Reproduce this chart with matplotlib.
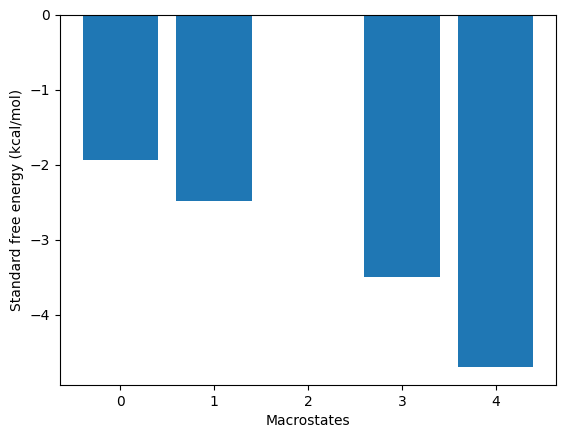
import numpy as np
import matplotlib
matplotlib.use("Agg")
from matplotlib import pyplot as plt

macrostates = [0, 1, 2, 3, 4]
free_energy = [-1.93, -2.48, 0.0, -3.49, -4.70]

fig = plt.figure(figsize=(5.65, 4.38), dpi=100)
ax = fig.add_axes([60 / 565, 1 - 385 / 438, 496 / 565, 370 / 438])
ax.bar(macrostates, free_energy)
ax.set_xlabel('Macrostates')
ax.set_ylabel('Standard free energy (kcal/mol)')
fig.savefig('out.png', dpi=100)
